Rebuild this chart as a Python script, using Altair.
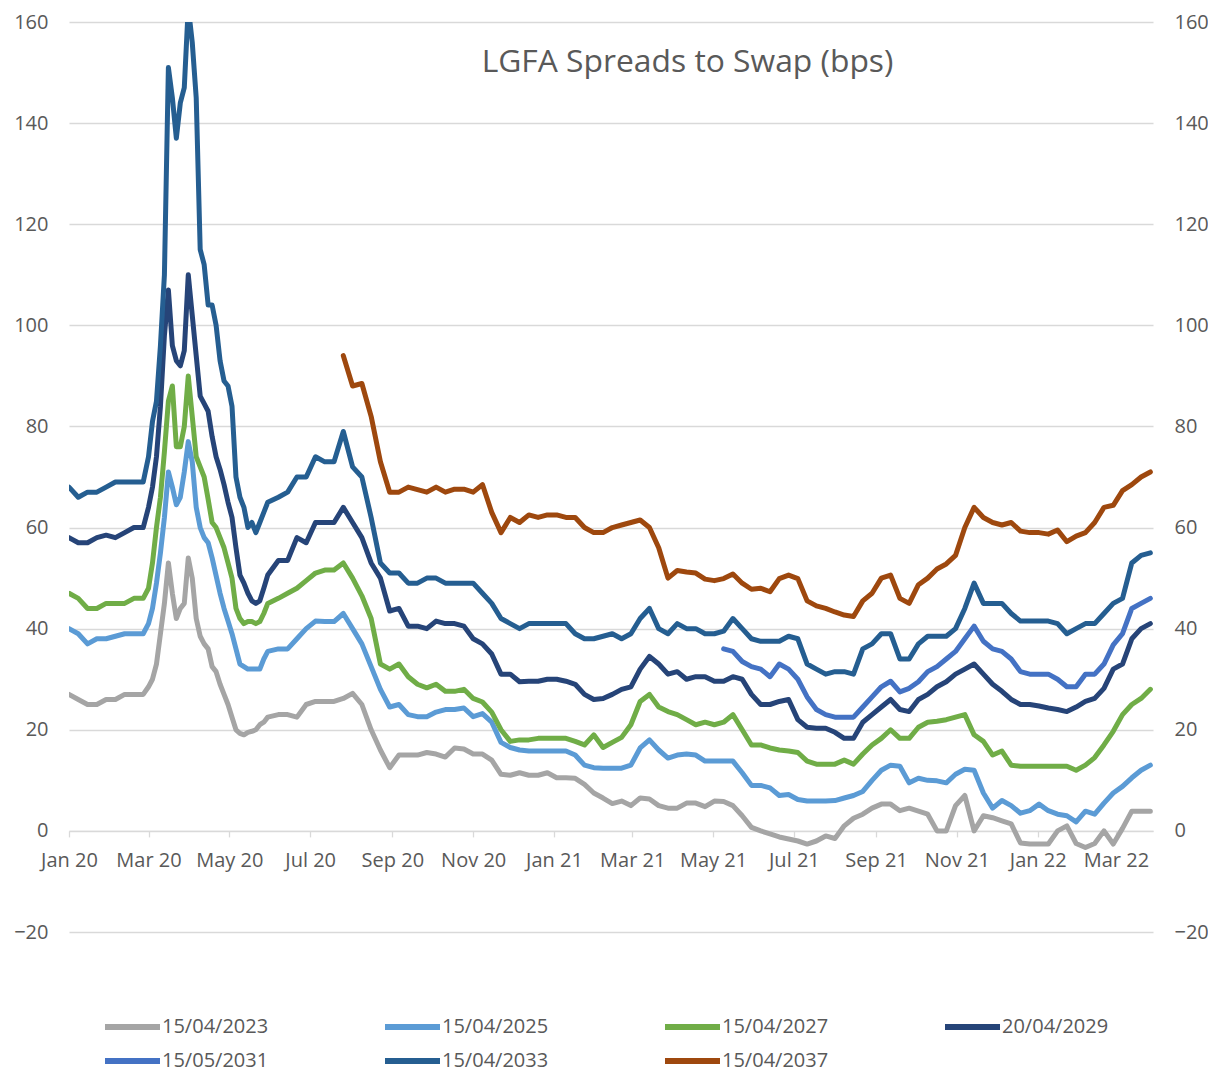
import altair as alt
import pandas as pd

# ---------------- data ----------------
series_names = ["15/04/2023", "15/04/2025", "15/04/2027", "20/04/2029",
                "15/05/2031", "15/04/2033", "15/04/2037"]
series_colors = ["#A5A5A5", "#5B9BD5", "#70AD47", "#264478",
                 "#4472C4", "#255E91", "#9E480E"]

# observation dates: weekly in Jan-Feb 2020, every 3 days through the March-May 2020 spike, then weekly
dates = (list(pd.date_range("2020-01-01", periods=9, freq="7D"))
         + list(pd.date_range("2020-03-01", periods=31, freq="3D"))
         + list(pd.date_range("2020-06-07", periods=95, freq="7D")))

s2023 = [27, 26, 25, 25, 26, 26, 27, 27, 27,
         28.5, 30, 33, 39, 45, 53, 47, 42, 44, 45, 54, 50, 42, 38.5, 37, 36, 32.5, 31.5, 29, 27,
         25, 22.5, 20, 19.3, 19, 19.5, 19.7, 20, 21, 21.5, 22.5,
         23, 23, 22.5, 25, 25.6, 25.6, 25.6, 26.2, 27.2, 25,
         20, 16, 12.5, 15, 15, 15, 15.5, 15.2, 14.6, 16.4,
         16.2, 15.2, 15.2, 14, 11.2, 11, 11.5, 11, 11, 11.5,
         10.5, 10.5, 10.4, 9.2, 7.5, 6.5, 5.4, 5.9, 5, 6.5,
         6.3, 5, 4.5, 4.5, 5.5, 5.5, 4.8, 5.9, 5.8, 5,
         3, 0.7, 0, -0.6, -1.2, -1.6, -2, -2.6, -2, -1,
         -1.5, 1, 2.5, 3.3, 4.5, 5.3, 5.3, 4, 4.5, 3.9,
         3.3, 0, 0, 5, 7, 0, 3, 2.6, 2, 1.4,
         -2.4, -2.6, -2.6, -2.6, 0, 1, -2.5, -3.3, -2.5, 0,
         -2.6, 0.5, 3.9, 3.9, 3.9]

s2025 = [40, 39, 37, 38, 38, 38.5, 39, 39, 39,
         41, 44, 49, 55, 62, 71, 68, 64.5, 66, 71, 77, 73, 64, 60, 58, 57, 54, 50.5, 47, 44,
         41.5, 39, 36, 33, 32.5, 32, 32, 32, 32, 34, 35.5,
         36, 36, 38, 40, 41.5, 41.4, 41.4, 43, 40, 37,
         32.5, 28, 24.5, 25, 23, 22.6, 22.6, 23.5, 24, 24,
         24.3, 22.6, 23.2, 21.5, 17.5, 16.5, 16, 15.8, 15.8, 15.8,
         15.8, 15.8, 15, 13, 12.5, 12.4, 12.4, 12.4, 13, 16.4,
         18, 16, 14.4, 15, 15.2, 15, 13.8, 13.8, 13.8, 13.8,
         11.5, 9, 9, 8.5, 7, 7.2, 6.2, 5.9, 5.9, 5.9,
         6, 6.5, 7, 7.8, 10, 12, 13, 12.8, 9.5, 10.4,
         10, 9.9, 9.5, 11.2, 12.2, 12, 7.5, 4.5, 6, 5,
         3.5, 4, 5.3, 4, 3.3, 3, 1.8, 3.9, 3.3, 5.5,
         7.5, 8.8, 10.5, 12, 13]

s2027 = [47, 46, 44, 44, 45, 45, 45, 46, 46,
         48, 53, 60, 66, 75, 85, 88, 76, 76, 80, 90, 82, 74, 72, 70, 65.6, 61, 60, 58, 56,
         53, 50, 44, 42, 41, 41.4, 41.4, 41, 41.4, 43, 45,
         46, 47, 48, 49.5, 51, 51.6, 51.6, 53, 50, 46.5,
         42, 33, 32, 33, 30.5, 29, 28.3, 29, 27.6, 27.6,
         28, 26.2, 25.5, 23.5, 20, 17.7, 18, 18, 18.3, 18.3,
         18.3, 18.3, 17.7, 17, 19, 16.5, 17.5, 18.5, 21, 25.6,
         27, 24.5, 23.6, 23, 22, 21, 21.5, 21, 21.5, 23,
         20, 17, 17, 16.4, 16, 15.8, 15.5, 13.8, 13.2, 13.2,
         13.2, 14, 13.2, 15.2, 17, 18.3, 20, 18.3, 18.3, 20.5,
         21.5, 21.7, 22, 22.5, 23, 19, 17.7, 15, 15.8, 13,
         12.8, 12.8, 12.8, 12.8, 12.8, 12.8, 12, 13, 14.5, 17,
         19.7, 23, 25, 26.2, 28]

s2029 = [58, 57, 57, 58, 58.5, 58, 59, 60, 60,
         64, 68, 74, 84, 98, 107, 96, 93, 92, 95, 110, 102, 94, 86, 84.5, 83, 78, 74, 71.5, 68.5,
         65, 62, 56, 50.6, 49, 47, 45.5, 45, 45.5, 48, 50.6,
         53.5, 53.5, 58, 57, 61, 61, 61, 64, 61, 58,
         53, 50, 43.5, 44, 40.5, 40.5, 40, 41.5, 41, 41,
         40.5, 38, 37, 35, 31, 31, 29.5, 29.6, 29.6, 30,
         30, 29.6, 29, 27, 26, 26.2, 27, 28, 28.5, 32,
         34.5, 33, 31, 31.5, 30, 30.5, 30.5, 29.6, 29.6, 30.5,
         30, 27, 25, 25, 25.6, 26, 22, 20.5, 20.3, 20.3,
         19.5, 18.3, 18.3, 21.5, 23, 24.5, 26, 24, 23.6, 26,
         27, 28.5, 29.5, 31, 32, 33, 31, 29, 27.6, 26,
         25, 25, 24.7, 24.3, 24, 23.6, 24.5, 25.6, 26.2, 28.2,
         32, 33, 38, 40, 41]

s2031 = [None] * 88 + [
         36, 35.5, 33.5, 32.5, 32, 30.5, 33, 32, 30, 26.5,
         24, 23, 22.5, 22.5, 22.5, 24.5, 26.5, 28.5, 29.6, 27.5,
         28.2, 29.5, 31.5, 32.5, 34, 35.5, 38, 40.5, 37.5, 36,
         35.5, 34, 31.5, 31, 31, 31, 30, 28.5, 28.5, 31,
         31, 33, 36.8, 39, 44, 45, 46]

s2033 = [68, 66, 67, 67, 68, 69, 69, 69, 69,
         74, 81, 85, 96, 110, 151, 145, 137, 144, 147, 163, 156, 145, 115, 112, 104, 104, 100, 93, 89,
         88, 84, 70, 66, 64, 60, 61, 59, 61, 63, 65,
         66, 67, 70, 70, 74, 73, 73, 79, 72, 70,
         62, 53, 51, 51, 49, 49, 50, 50, 49, 49,
         49, 49, 47, 45, 42, 41, 40, 41, 41, 41,
         41, 41, 39, 38, 38, 38.5, 39, 38, 39, 42,
         44, 40, 39, 41, 40, 40, 39, 39, 39.5, 42,
         40, 38, 37.5, 37.5, 37.5, 38.5, 38, 33, 32, 31,
         31.5, 31.5, 31, 36, 37, 39, 39, 34, 34, 37,
         38.5, 38.5, 38.5, 40, 44, 49, 45, 45, 45, 43,
         41.5, 41.5, 41.5, 41.5, 41, 39, 40, 41, 41, 43,
         45, 46, 53, 54.5, 55]

s2037 = [None] * 47 + [
         94, 88, 88.5,
         82, 73, 67, 67, 68, 67.5, 67, 68, 67, 67.6,
         67.6, 67, 68.5, 63, 59, 62, 61, 62.5, 62, 62.5,
         62.5, 62, 62, 60, 59, 59, 60, 60.5, 61, 61.5,
         60, 56, 50, 51.5, 51.2, 51, 49.8, 49.5, 49.9, 50.8,
         49, 47.8, 48, 47.3, 49.9, 50.6, 49.9, 45.5, 44.5, 44,
         43.3, 42.7, 42.4, 45.5, 47, 50, 50.6, 46, 45, 48.7,
         50, 51.8, 52.8, 54.5, 60, 64, 62, 61, 60.5, 61,
         59.3, 59, 59, 58.7, 59.5, 57.2, 58.3, 59, 61, 64,
         64.4, 67.3, 68.5, 70, 71]

y_ticks = [-20, 0, 20, 40, 60, 80, 100, 120, 140, 160]
x_tick_months = [(2020, m) for m in (1, 3, 5, 7, 9, 11)] + \
                [(2021, m) for m in (1, 3, 5, 7, 9, 11)] + [(2022, 1), (2022, 3)]

all_series = [s2023, s2025, s2027, s2029, s2031, s2033, s2037]
rows = []
for name, vals in zip(series_names, all_series):
    for d, v in zip(dates, vals):
        if v is not None:
            rows.append({"date": d.strftime("%Y-%m-%d"), "value": v, "series": name})
df = pd.DataFrame(rows)

# ---------------- chart ----------------
FONT = "Open Sans"
TXT = "#595959"
GRID = "#D9D9D9"
W, H = 1084, 910

x_scale = alt.Scale(type="utc",
                    domain=[alt.DateTime(year=2020, month=1, date=1, utc=True),
                            alt.DateTime(year=2022, month=3, date=29, utc=True)])
y_scale = alt.Scale(domain=[-20, 160], nice=False, zero=False)

x_axis = alt.Axis(
    values=[alt.DateTime(year=y, month=m, date=1, utc=True) for y, m in x_tick_months],
    format="%b %y", orient="bottom", offset=-H * 20 / 180, title=None,
    grid=False, domainColor=GRID, domainWidth=1.3, tickColor=GRID, tickWidth=1.3,
    tickSize=6, labelPadding=14, labelFont=FONT, labelFontSize=20, labelColor=TXT,
    labelFlush=False, labelOverlap=False)

# legend symbol: a flat line starting at the symbol's left edge
legend_line = "M-1,0L4,0"

lines = alt.Chart(df).mark_line(strokeWidth=5, clip=True, strokeJoin="round",
                                strokeCap="round").encode(
    x=alt.X("date:T", scale=x_scale, axis=x_axis),
    y=alt.Y("value:Q", scale=y_scale,
            axis=alt.Axis(values=y_ticks, orient="left", title=None, domain=False,
                          ticks=False, tickSize=0, grid=True, gridColor=GRID,
                          gridWidth=1.3, labelPadding=21, labelFont=FONT,
                          labelFontSize=20, labelColor=TXT)),
    color=alt.Color("series:N",
                    scale=alt.Scale(domain=series_names, range=series_colors),
                    legend=alt.Legend(orient="none", legendX=33, legendY=991,
                                      direction="horizontal", columns=4, title=None,
                                      symbolType=legend_line, symbolSize=484,
                                      symbolStrokeWidth=6, labelFont=FONT,
                                      labelFontSize=20, labelColor=TXT,
                                      labelOffset=32, columnPadding=104,
                                      rowPadding=8, labelLimit=400)),
    order=alt.Order("date:T"),
)

right_axis = alt.Chart(df).mark_point(opacity=0).encode(
    x=alt.X("date:T", scale=x_scale, axis=x_axis),
    y=alt.Y("value:Q", scale=y_scale,
            axis=alt.Axis(values=y_ticks, orient="right", title=None, domain=False,
                          ticks=False, tickSize=0, grid=False, labelPadding=21,
                          labelFont=FONT, labelFontSize=20, labelColor=TXT)),
)

chart = alt.layer(lines, right_axis).resolve_scale(y="independent").properties(
    width=W, height=H,
    title=alt.TitleParams(text="LGFA Spreads to Swap (bps)", anchor="middle",
                          frame="group", dx=76.5, offset=-90, baseline="middle",
                          font=FONT, fontSize=31.8, fontWeight="normal", color=TXT),
    autosize="none",
    padding={"left": 61, "top": 14, "right": 55, "bottom": 141},
).configure_view(strokeWidth=0)

chart.save("out.html", embed_options={"renderer": "svg", "actions": False})
